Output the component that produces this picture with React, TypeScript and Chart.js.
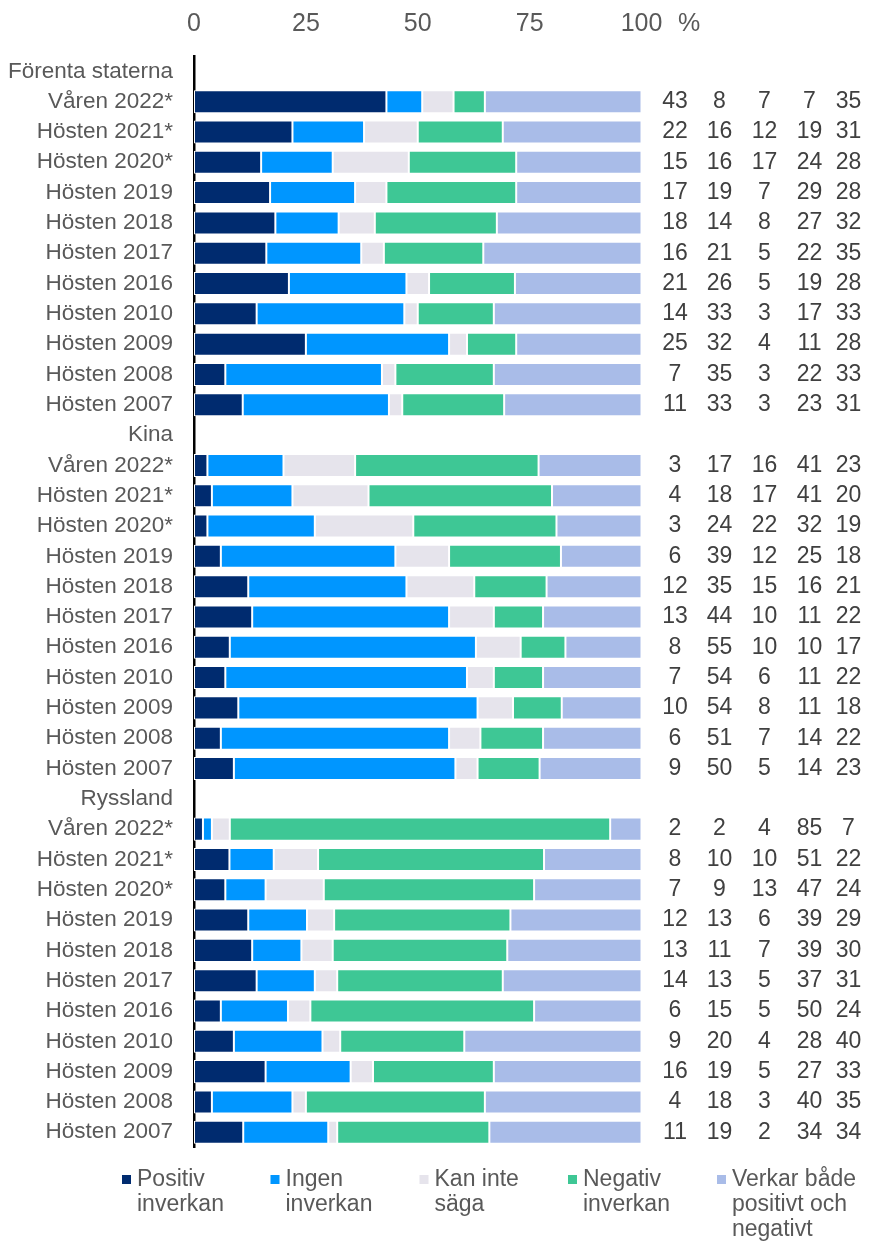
import React, { useEffect, useRef } from 'react';
import { Chart, registerables } from 'chart.js';

Chart.register(...registerables);

const FONT = '"Liberation Sans", Arial, Helvetica, sans-serif';

const periods = [
  'Våren 2022*', 'Hösten 2021*', 'Hösten 2020*', 'Hösten 2019', 'Hösten 2018', 'Hösten 2017',
  'Hösten 2016', 'Hösten 2010', 'Hösten 2009', 'Hösten 2008', 'Hösten 2007',
];
const countries = ['Förenta staterna', 'Kina', 'Ryssland'];
const categories = countries.flatMap((c) => [c, ...periods]);

// one value per row; null on the country header rows
const positiv = [
  null, 43, 22, 15, 17, 18, 16, 21, 14, 25, 7, 11,
  null, 3, 4, 3, 6, 12, 13, 8, 7, 10, 6, 9,
  null, 2, 8, 7, 12, 13, 14, 6, 9, 16, 4, 11,
];
const ingen = [
  null, 8, 16, 16, 19, 14, 21, 26, 33, 32, 35, 33,
  null, 17, 18, 24, 39, 35, 44, 55, 54, 54, 51, 50,
  null, 2, 10, 9, 13, 11, 13, 15, 20, 19, 18, 19,
];
const kanInteSaga = [
  null, 7, 12, 17, 7, 8, 5, 5, 3, 4, 3, 3,
  null, 16, 17, 22, 12, 15, 10, 10, 6, 8, 7, 5,
  null, 4, 10, 13, 6, 7, 5, 5, 4, 5, 3, 2,
];
const negativ = [
  null, 7, 19, 24, 29, 27, 22, 19, 17, 11, 22, 23,
  null, 41, 41, 32, 25, 16, 11, 10, 11, 11, 14, 14,
  null, 85, 51, 47, 39, 39, 37, 50, 28, 27, 40, 34,
];
const bada = [
  null, 35, 31, 28, 28, 32, 35, 28, 33, 28, 33, 31,
  null, 23, 20, 19, 18, 21, 22, 17, 22, 18, 22, 23,
  null, 7, 22, 24, 29, 30, 31, 24, 40, 33, 35, 34,
];

const seriesLabels = [
  ['Positiv', 'inverkan'],
  ['Ingen', 'inverkan'],
  ['Kan inte', 'säga'],
  ['Negativ', 'inverkan'],
  ['Verkar både', 'positivt och', 'negativt'],
];
const seriesValues = [positiv, ingen, kanInteSaga, negativ, bada];
const seriesColors = ['#002B6F', '#0096FF', '#E6E4EC', '#3EC795', '#A9BCE8'];

const xTicks = [0, 25, 50, 75, 100];

// value columns to the right of the bars (centres)
const valueColX = [675, 719.5, 764.5, 809.5, 848.5];
const legendX = [122, 270.5, 419.5, 568, 717];

const overlayPlugin = {
  id: 'overlay',
  afterDraw(chart: any) {
    const { ctx, chartArea, scales } = chart;
    const yScale = scales.y;
    ctx.save();
    // values table
    ctx.font = `23px ${FONT}`;
    ctx.fillStyle = '#404040';
    ctx.textAlign = 'center';
    ctx.textBaseline = 'middle';
    categories.forEach((_, i) => {
      seriesValues.forEach((vals, k) => {
        const v = vals[i];
        if (v == null) return;
        ctx.fillText(String(v), valueColX[k], yScale.getPixelForValue(i));
      });
    });
    // percent sign next to the axis ticks
    ctx.font = `25px ${FONT}`;
    ctx.fillStyle = '#595959';
    ctx.fillText('%', chartArea.right + 47.5, 24.5);
    // legend
    ctx.font = `23px ${FONT}`;
    ctx.textAlign = 'left';
    seriesLabels.forEach((lines, k) => {
      const lx = legendX[k];
      ctx.fillStyle = seriesColors[k];
      ctx.fillRect(lx, 1175, 9, 9);
      ctx.fillStyle = '#595959';
      lines.forEach((t, j) => {
        ctx.fillText(t, lx + 15, 1180 + j * 25);
      });
    });
    ctx.restore();
  },
};

export default function App() {
  const ref = useRef<HTMLCanvasElement | null>(null);

  useEffect(() => {
    document.body.style.margin = '0';
    const canvas = ref.current;
    if (!canvas) return;
    const datasets = seriesValues.map((vals, k) => ({
      label: seriesLabels[k].join(' '),
      data: vals.map((v, i) => {
        if (v == null) return null;
        const total = seriesValues.reduce((s, arr) => s + (arr[i] as number), 0);
        return (v / total) * 100;
      }),
      backgroundColor: seriesColors[k],
      borderColor: '#ffffff',
      borderWidth: 1,
      borderSkipped: false,
      barPercentage: 0.76,
      categoryPercentage: 1,
    }));
    const chart = new Chart(canvas, {
      type: 'bar',
      data: { labels: categories, datasets },
      options: {
        indexAxis: 'y',
        animation: false,
        responsive: true,
        maintainAspectRatio: false,
        layout: { padding: { top: 0, left: 0, right: 227.5, bottom: 95.6 } },
        plugins: { legend: { display: false }, tooltip: { enabled: false } },
        scales: {
          x: {
            type: 'linear',
            position: 'top',
            stacked: true,
            min: 0,
            max: 100,
            afterBuildTicks(scale: any) {
              scale.ticks = xTicks.map((v) => ({ value: v }));
            },
            ticks: { padding: 17, color: '#595959', font: { size: 25, family: FONT } },
            grid: { display: false, drawTicks: false },
            border: { display: false },
            afterFit(scale: any) {
              scale.height = 56.2;
            },
          },
          y: {
            type: 'category',
            position: 'left',
            stacked: true,
            z: 1,
            ticks: { padding: 21, autoSkip: false, color: '#595959', font: { size: 22.5, family: FONT } },
            grid: { display: false, drawTicks: false },
            border: { display: true, color: '#000000', width: 2.5 },
            afterFit(scale: any) {
              scale.width = 194;
            },
          },
        },
      } as any,
      plugins: [overlayPlugin],
    });
    return () => chart.destroy();
  }, []);

  return (
    <div style={{ position: 'relative', width: '869px', height: '1243px' }}>
      <canvas ref={ref} />
    </div>
  );
}
